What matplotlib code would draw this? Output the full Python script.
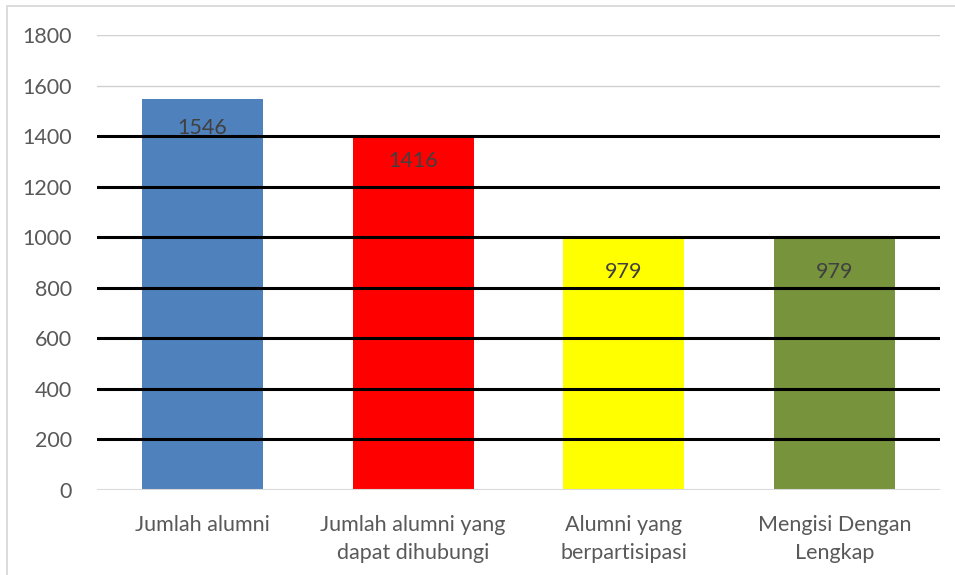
import matplotlib
matplotlib.use("Agg")
import matplotlib.pyplot as plt
from matplotlib.patches import Rectangle

# data
kategori = ["Jumlah alumni", "Jumlah alumni yang\ndapat dihubungi",
            "Alumni yang\nberpartisipasi", "Mengisi Dengan\nLengkap"]
label_nilai = [1546, 1416, 979, 979]      # angka yang tertulis
tinggi_batang = [1546, 1395, 995, 995]    # tinggi batang seperti pada gambar
warna = ["#4f81bd", "#ff0000", "#ffff00", "#77933c"]
yticks = [0, 200, 400, 600, 800, 1000, 1200, 1400, 1600, 1800]
garis_abu = [1600, 1800]
garis_hitam = [200, 400, 600, 800, 1000, 1200, 1400]

plt.rcParams['font.family'] = ['Lato', 'DejaVu Sans']
fs = 15.5

fig = plt.figure(figsize=(9.55, 5.75), dpi=100)
ax = fig.add_axes([97/955, 1-490/575, 843/955, 455/575])

x = range(len(kategori))
ax.bar(x, tinggi_batang, width=0.574, color=warna, zorder=2)

for y in garis_abu:
    ax.axhline(y, color="#d0d0d0", lw=1.0, zorder=1)
for y in garis_hitam:
    ax.axhline(y, color="black", lw=2.2, zorder=3)
ax.axhline(0, color="#d9d9d9", lw=1.5, zorder=3)

for i, v in enumerate(label_nilai):
    ax.annotate(str(v), (i, v), xytext=(0, -21), textcoords="offset points",
                ha="center", va="center", fontsize=fs, color="#404040", zorder=4)

ax.set_xlim(-0.5, 3.5)
ax.set_ylim(0, 1800)
ax.set_yticks(yticks)
ax.set_xticks(list(x))
ax.set_xticklabels(kategori, fontsize=fs, color="#595959", linespacing=1.5)
ax.tick_params(axis="y", labelsize=fs, labelcolor="#595959", length=0, pad=18)
ax.tick_params(axis="x", length=0, pad=18)
for s in ax.spines.values():
    s.set_visible(False)

# bingkai luar
fig.patches.append(Rectangle((7/955, -0.01), 1.0, 1 - 6/575 + 0.01,
                             transform=fig.transFigure, fill=False,
                             edgecolor="#d9d9d9", lw=1.3))

fig.savefig("out.png", dpi=100)
